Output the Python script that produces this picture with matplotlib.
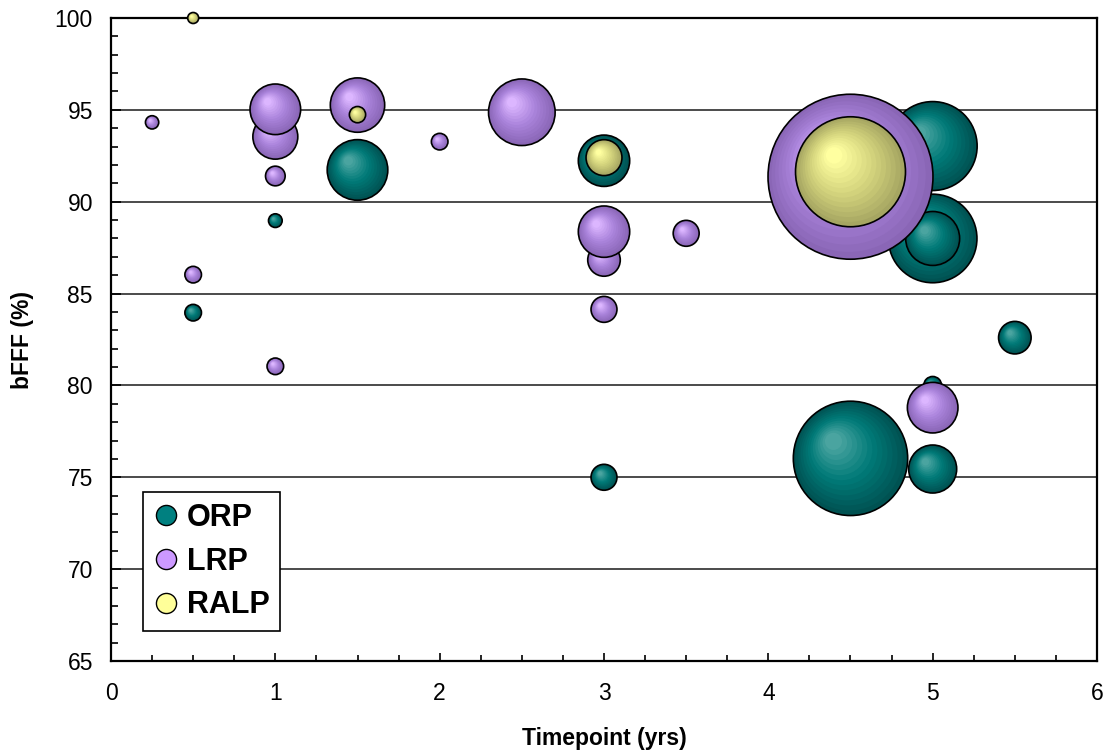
import numpy as np
import matplotlib
matplotlib.use("Agg")
import matplotlib.pyplot as plt
from matplotlib.transforms import ScaledTranslation
from matplotlib.lines import Line2D
from matplotlib.colors import to_rgb

# ---------------- data ----------------
series_names = ["ORP", "LRP", "RALP"]

orp_x = [0.5, 1.0, 1.5, 3.0, 3.0, 4.5, 5.0, 5.0, 5.0, 5.0, 5.0, 5.5]
orp_y = [83.96, 88.97, 91.73, 92.23, 75.0, 76.03, 93.03, 88.0, 88.0, 80.0, 75.45, 82.6]
orp_n = [25, 17, 333, 239, 61, 1185, 717, 711, 264, 29, 209, 96]

lrp_x = [0.25, 0.5, 1.0, 1.0, 1.0, 1.0, 1.5, 2.0, 2.5, 3.0, 3.0, 3.0, 3.5, 4.5, 5.0]
lrp_y = [94.32, 86.03, 93.54, 95.03, 91.4, 81.04, 95.26, 93.27, 94.87, 86.83, 88.37, 84.14, 88.28, 91.36, 78.79]
lrp_n = [16, 25, 183, 232, 35, 25, 268, 25, 402, 96, 239, 61, 61, 2466, 232]

ralp_x = [0.5, 1.5, 3.0, 4.5]
ralp_y = [100.0, 94.74, 92.4, 91.63]
ralp_n = [11, 24, 117, 1096]

x_ticks = [0, 1, 2, 3, 4, 5, 6]
y_ticks = [65, 70, 75, 80, 85, 90, 95, 100]

# ---------------- style ----------------
FONT = "Liberation Sans"
plt.rcParams["font.family"] = [FONT, "DejaVu Sans"]

SIZE_SCALE = 5.72  # points^2 per unit of bubble value

palettes = {
    "ORP": ("#005252", "#007a78", "#4aa4a0"),
    "LRP": ("#8a66b6", "#ab84dc", "#dcb6ff"),
    "RALP": ("#a6a662", "#d6d67e", "#ffffa0"),
}
legend_colors = {"ORP": "#008080", "LRP": "#cc99ff", "RALP": "#ffff99"}

fig = plt.figure(figsize=(11.07, 7.52), dpi=100)
ax = fig.add_axes([111 / 1107, 1 - 661 / 752, 986 / 1107, 643 / 752])

ax.set_xlim(0, 6)
ax.set_ylim(65, 100)
ax.set_xticks(x_ticks)
ax.set_yticks(y_ticks)
ax.set_xticks(np.arange(0, 6.01, 0.25), minor=True)
ax.set_yticks(np.arange(65, 100.1, 1), minor=True)
ax.tick_params(axis="both", which="both", direction="in", top=False, right=False,
               width=1.2, color="black")
ax.tick_params(axis="y", which="major", length=7, pad=13, labelsize=16.5)
ax.tick_params(axis="y", which="minor", length=5)
ax.tick_params(axis="x", which="major", length=5.5, pad=15, labelsize=16.5)
ax.tick_params(axis="x", which="minor", length=4)

for sp in ax.spines.values():
    sp.set_linewidth(1.6)
    sp.set_color("black")

ax.set_axisbelow(True)
ax.yaxis.grid(True, which="major", color="#1a1a1a", linewidth=1.1)

ax.set_xlabel("Timepoint (yrs)", fontsize=16.5, fontweight="bold")
ax.set_ylabel("bFFF (%)", fontsize=16.5, fontweight="bold")
ax.xaxis.set_label_coords(0.5, (661 - 738) / 643)
ax.yaxis.set_label_coords((22 - 111) / 986, 0.5)
ax.xaxis.label.set_va("center")
ax.yaxis.label.set_va("center")


def shade(pal, t):
    d, m, l = [np.array(to_rgb(c)) for c in pal]
    if t < 0.5:
        u = t / 0.5
        return tuple(d + (m - d) * u)
    u = (t - 0.5) / 0.5
    return tuple(m + (l - m) * u)


N_LAYERS = 14
z = 3.0


def draw_bubbles(xs, ys, ns, pal):
    global z
    for x, y, n in zip(xs, ys, ns):
        s = n * SIZE_SCALE
        r_pt = np.sqrt(s) / 2.0
        for k in range(N_LAYERS):
            t = k / (N_LAYERS - 1)
            f = 1 - 0.85 * t
            off = (1 - f) * 0.35 * r_pt
            tr = ax.transData + ScaledTranslation(-off / 72, off / 72, fig.dpi_scale_trans)
            ax.scatter([x], [y], s=s * f * f, c=[shade(pal, t)], edgecolors="none",
                       transform=tr, zorder=z, clip_on=False)
        ax.scatter([x], [y], s=s, facecolors="none", edgecolors="black",
                   linewidths=1.2, zorder=z, clip_on=False)
        z += 0.01


draw_bubbles(orp_x, orp_y, orp_n, palettes["ORP"])
draw_bubbles(lrp_x, lrp_y, lrp_n, palettes["LRP"])
draw_bubbles(ralp_x, ralp_y, ralp_n, palettes["RALP"])

handles = [Line2D([], [], linestyle="none", marker="o", markersize=14.5,
                  markerfacecolor=legend_colors[nm], markeredgecolor="black",
                  markeredgewidth=1.0, label=nm) for nm in series_names]
leg = ax.legend(handles=handles, loc="lower left",
                bbox_to_anchor=((142.7 - 111) / 986, (661 - 631) / 643),
                borderaxespad=0, fancybox=False, framealpha=1, edgecolor="black",
                prop={"family": FONT, "weight": "bold", "size": 22},
                handlelength=0.8, handletextpad=0.3, labelspacing=0.45,
                borderpad=0.35)
leg.get_frame().set_linewidth(1.2)
leg.set_zorder(100)

fig.savefig("out.png", dpi=100)
